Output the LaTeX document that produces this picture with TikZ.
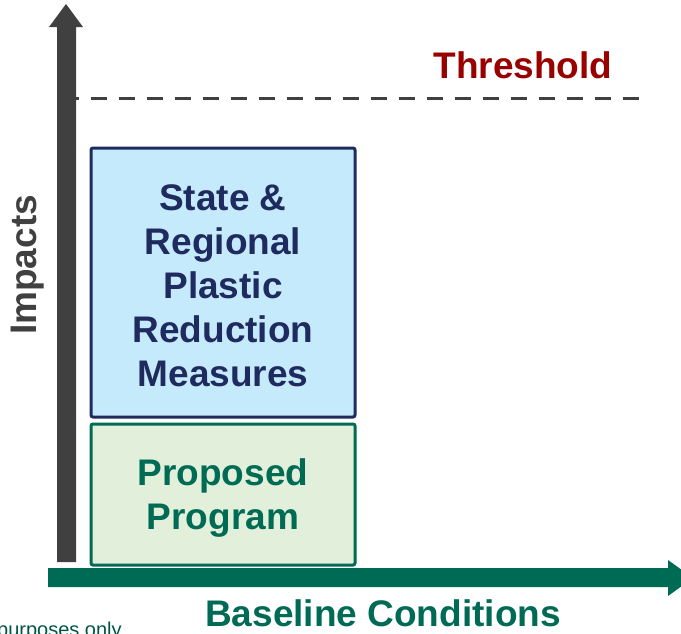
\documentclass[tikz,border=0pt]{standalone}
\usepackage{fontspec}
\setmainfont{Liberation Sans}
\usetikzlibrary{positioning}
\definecolor{axisgray}{HTML}{404040}
\definecolor{baseteal}{HTML}{006B54}
\definecolor{navyline}{HTML}{1F2A5E}
\definecolor{skyfill}{HTML}{C5EAFB}
\definecolor{sagefill}{HTML}{E2EFDA}
\definecolor{darkred}{HTML}{990000}
\tikzstyle{block} = [draw, line width=3pt, rectangle, rounded corners=2pt, minimum width=264pt, align=center, inner sep=0pt, font=\bfseries\fontsize{37}{44}\selectfont]
\tikzstyle{axistext} = [font=\bfseries\fontsize{37}{44}\selectfont]

\begin{document}
\begin{tikzpicture}[x=1pt,y=-1pt]
		\useasboundingbox (0,0) rectangle (681,633);
		
		% axes
		\fill [axisgray] (57,562) -- (57,27) -- (49,27) -- (66,4) -- (83,27) -- (76,27) -- (76,562) -- cycle;
		\fill [baseteal] (48,568) -- (668,568) -- (668,560) -- (693,578) -- (668,596) -- (668,587) -- (48,587) -- cycle;
		\coordinate (thl) at (76,98);
		\coordinate (thr) at (639,98);
		\draw [axisgray, line width=3pt, dash pattern=on 16pt off 12pt, dash phase=13pt] (thl) -- (thr);
		
		\node [block, draw=navyline, fill=skyfill, text=navyline, minimum height=269pt] (measures) at (223,282.5) {\rule{0pt}{33pt}State \&\\Regional\\Plastic\\Reduction\\Measures};
		\node [block, draw=baseteal, fill=sagefill, text=baseteal, minimum height=141pt, below=4pt of measures] (program) {\rule{0pt}{33pt}Proposed\\Program};
		
		\node [axistext, text=darkred] (threshold) at (523,65) {Threshold};
		\node [axistext, text=axisgray, rotate=90] (impacts) at (28,265) {Impacts};
		\node [axistext, text=baseteal] (baseline) at (383,613) {Baseline Conditions};
		\node [anchor=base west, inner sep=0pt, text=baseteal!80!black, font=\fontsize{20}{24}\selectfont] (note) at (-3,636) {purposes only};
	\end{tikzpicture}
\end{document}
